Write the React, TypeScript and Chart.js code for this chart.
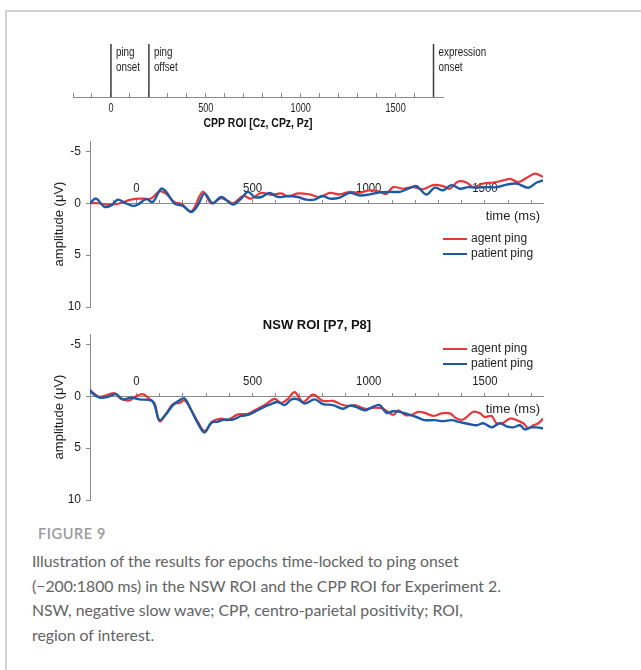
import React, { useEffect, useRef } from 'react';
import { Chart, registerables } from 'chart.js';

Chart.register(...registerables);

// ---------- data ----------
const X_MIN = -200;
const X_MAX = 1750;
const xTickValues = [-200, -100, 0, 100, 200, 300, 400, 500, 600, 700, 800, 900, 1000, 1100, 1200, 1300, 1400, 1500, 1600, 1700];
const xTickLabels = [0, 500, 1000, 1500];
const yTicks = [-5, 0, 5, 10];
const eventTimes = [0, 200, 1700];
const eventLabels = [['ping', 'onset'], ['ping', 'offset'], ['expression', 'onset']];
const seriesNames = ['agent ping', 'patient ping'];
const cppTitle = 'CPP ROI [Cz, CPz, Pz]';
const nswTitle = 'NSW ROI [P7, P8]';
const yTitle = 'amplitude (μV)';
const xTitle = 'time (ms)';

const cppAgentT = [-200, -166, -124, -80, -23, 27, 63, 99, 128, 164, 193, 236, 286, 322, 365, 415, 458, 494, 537, 580, 623, 652, 695, 746, 789, 832, 875, 918, 961, 1004, 1047, 1076, 1105, 1148, 1191, 1234, 1277, 1320, 1349, 1385, 1421, 1450, 1493, 1536, 1579, 1608, 1644, 1680, 1716, 1750];
const cppAgentV = [0, 0, 0.15, 0.05, -0.35, -0.45, -0.45, -1.15, -0.9, -0.1, 0.05, 0.8, -1.1, 0, -0.5, 0, -0.7, -0.45, -1.0, -0.8, -0.95, -0.65, -0.95, -0.85, -0.6, -1.0, -0.85, -1.1, -1.0, -1.25, -1.1, -0.9, -1.55, -1.4, -1.55, -1.35, -1.75, -1.65, -1.4, -2.1, -2.0, -1.55, -1.9, -2.0, -2.2, -2.35, -2.05, -2.45, -2.85, -2.55];

const cppPatientT = [-200, -174, -138, -109, -80, -52, -16, 6, 42, 70, 106, 128, 164, 200, 236, 264, 293, 329, 365, 415, 451, 480, 509, 537, 573, 609, 652, 695, 731, 767, 800, 832, 875, 918, 961, 1004, 1047, 1090, 1134, 1170, 1205, 1248, 1284, 1320, 1356, 1392, 1428, 1464, 1507, 1550, 1593, 1636, 1687, 1723, 1750];
const cppPatientV = [0, -0.45, 0.35, 0.2, -0.35, -0.07, 0.25, 0.12, -0.4, -0.12, -1.4, -1.1, 0.03, 0.25, 0.84, 0.2, -0.93, 0, -0.6, 0.12, -0.45, -1.1, -0.6, -0.6, -1.0, -0.6, -0.7, -0.6, -0.35, -0.35, -0.7, -0.45, -0.55, -1.0, -0.75, -0.85, -1.05, -1.1, -1.1, -1.4, -1.65, -0.85, -1.5, -1.25, -1.75, -1.4, -1.55, -1.5, -1.55, -1.55, -1.8, -1.9, -1.5, -2.0, -2.2];

const nswAgentT = [-200, -159, -95, -67, -30, -2, 27, 56, 78, 99, 128, 157, 185, 207, 236, 264, 293, 329, 365, 393, 437, 480, 509, 552, 595, 623, 652, 681, 717, 760, 803, 846, 889, 918, 940, 983, 1026, 1062, 1105, 1127, 1156, 1184, 1213, 1241, 1277, 1313, 1349, 1378, 1406, 1450, 1479, 1500, 1529, 1550, 1579, 1608, 1636, 1665, 1687, 1708, 1730, 1750];
const nswAgentV = [-0.6, 0.05, -0.3, 0.25, 0.4, 0.0, -0.2, 0.25, 0.7, 2.4, 1.7, 0.75, 0.65, 0.4, 1.35, 2.45, 3.35, 2.4, 2.15, 2.3, 1.75, 1.7, 1.35, 0.85, 0.25, 0.65, 0.25, -0.4, 0.55, -0.15, 0.45, 0.45, 0.85, 0.95, 0.85, 1.2, 1.1, 1.2, 1.8, 1.35, 1.8, 1.8, 1.5, 1.6, 1.9, 1.65, 1.65, 2.15, 2.25, 1.5, 1.65, 2.0, 1.9, 2.6, 2.55, 2.15, 2.3, 2.6, 3.1, 2.8, 2.6, 2.15];

const nswPatientT = [-200, -188, -159, -124, -88, -59, -23, 13, 63, 78, 99, 128, 157, 185, 207, 236, 264, 293, 322, 350, 379, 415, 451, 480, 509, 552, 580, 609, 638, 667, 695, 724, 767, 803, 846, 889, 918, 947, 983, 1011, 1047, 1076, 1105, 1134, 1170, 1205, 1241, 1284, 1320, 1356, 1392, 1435, 1464, 1493, 1529, 1565, 1593, 1622, 1651, 1672, 1694, 1723, 1750];
const nswPatientV = [-0.6, -0.25, 0.13, 0.07, -0.2, 0.3, 0.13, 0.3, 0.4, 0.85, 2.3, 1.7, 0.85, 0.4, 0.2, 1.35, 2.6, 3.5, 2.55, 2.45, 2.25, 2.25, 1.9, 1.8, 1.5, 1.0, 0.75, 0.55, 0.85, 0.3, 0.3, 0.7, 0.3, 0.75, 0.85, 1.2, 0.9, 1.05, 1.35, 1.1, 0.85, 1.6, 1.45, 1.5, 1.75, 2.0, 2.3, 2.3, 2.4, 2.3, 2.5, 2.7, 2.8, 2.6, 3.0, 2.6, 2.9, 3.0, 2.8, 3.2, 3.0, 3.0, 3.1];

// ---------- styles ----------
const FONT = '"Liberation Sans", Arial, Helvetica, sans-serif';
const RED = '#e6373b';
const BLUE = '#1d5aa3';
const AXIS = '#8a8a8a';
const TEXT = '#1e1e1e';

const pts = (t: number[], v: number[]) => t.map((x, i) => ({ x, y: v[i] }));

function drawText(ctx: CanvasRenderingContext2D, text: string, x: number, y: number, font: string, color: string, align: CanvasTextAlign, sx = 1, rot = 0) {
  ctx.save();
  ctx.font = font;
  ctx.fillStyle = color;
  ctx.textBaseline = 'middle';
  ctx.textAlign = align;
  ctx.translate(x, y);
  if (rot) ctx.rotate(rot);
  ctx.scale(sx, 1);
  ctx.fillText(text, 0, 0);
  ctx.restore();
}

const setXTicks = (s: any) => { s.ticks = xTickValues.map((v) => ({ value: v })); };

const timelinePlugin = {
  id: 'timelineText',
  afterDraw(chart: any) {
    const { ctx, chartArea, scales } = chart;
    const xs = scales.x;
    const y0 = scales.y.getPixelForValue(0);
    xTickLabels.forEach((v) => drawText(ctx, String(v), xs.getPixelForValue(v), y0 + 11.5, `13px ${FONT}`, TEXT, 'center', 0.7));
    eventTimes.forEach((t, i) => {
      const x = xs.getPixelForValue(t) + 5;
      eventLabels[i].forEach((s, j) => drawText(ctx, s, x, chartArea.top + 8.5 + j * 15.5, `12px ${FONT}`, TEXT, 'left', 0.82));
    });
    drawText(ctx, cppTitle, (chartArea.left + chartArea.right) / 2, y0 + 27, `bold 12px ${FONT}`, '#111', 'center', 0.87);
  },
};

function makePanelPlugin(legendTop: number, title: string | null) {
  return {
    id: 'panelText',
    beforeDatasetsDraw(chart: any) {
      const { ctx, chartArea, scales } = chart;
      const xs = scales.x;
      const ys = scales.y;
      const y0 = ys.getPixelForValue(0);
      xTickLabels.forEach((v) => drawText(ctx, String(v), xs.getPixelForValue(v), y0 - 15, `12px ${FONT}`, TEXT, 'center', 0.95));
      yTicks.forEach((v) => drawText(ctx, String(v), chartArea.left - 9, ys.getPixelForValue(v), `12px ${FONT}`, TEXT, 'right'));
      drawText(ctx, yTitle, chartArea.left - 31, (chartArea.top + chartArea.bottom) / 2, `13px ${FONT}`, TEXT, 'center', 1, -Math.PI / 2);
    },
    afterDraw(chart: any) {
      const { ctx, chartArea, scales } = chart;
      const y0 = scales.y.getPixelForValue(0);
      drawText(ctx, xTitle, chartArea.right - 3, y0 + 13, `13px ${FONT}`, TEXT, 'right');
      chart.data.datasets.forEach((ds: any, i: number) => {
        const y = chartArea.top + legendTop + i * 15;
        ctx.save();
        ctx.strokeStyle = ds.borderColor;
        ctx.lineWidth = 2;
        ctx.beginPath();
        ctx.moveTo(chartArea.right - 100, y);
        ctx.lineTo(chartArea.right - 76, y);
        ctx.stroke();
        ctx.restore();
        drawText(ctx, ds.label, chartArea.right - 72, y, `12px ${FONT}`, TEXT, 'left');
      });
      if (title) {
        drawText(ctx, title, 317, chartArea.top - 9, `bold 13px ${FONT}`, '#111', 'center');
      }
    },
  };
}

function timelineConfig(): any {
  return {
    type: 'line',
    data: {
      datasets: eventTimes.map((t) => ({
        data: [{ x: t, y: 0 }, { x: t, y: 1 }],
        borderColor: '#3a3a3a',
        borderWidth: 1.5,
        pointRadius: 0,
      })),
    },
    options: {
      responsive: false,
      animation: false,
      events: [],
      layout: { padding: { left: 73, right: 198, top: 44, bottom: 38 } },
      plugins: { legend: { display: false }, tooltip: { enabled: false }, title: { display: false } },
      scales: {
        x: {
          type: 'linear', min: X_MIN, max: X_MAX, position: { y: 0 },
          afterBuildTicks: setXTicks,
          grid: { display: true, drawOnChartArea: false, drawTicks: true, tickLength: -5, color: AXIS, lineWidth: 1 },
          border: { display: true, color: AXIS, width: 1 },
          ticks: { display: false },
        },
        y: { type: 'linear', min: 0, max: 1, display: false },
      },
    },
    plugins: [timelinePlugin],
  };
}

function panelConfig(agent: { x: number; y: number }[], patient: { x: number; y: number }[], legendTop: number, title: string | null): any {
  return {
    type: 'line',
    data: {
      datasets: [
        { label: seriesNames[0], data: agent, borderColor: RED, borderWidth: 2.2, pointRadius: 0, tension: 0.35, order: 1 },
        { label: seriesNames[1], data: patient, borderColor: BLUE, borderWidth: 2.4, pointRadius: 0, tension: 0.35, order: 0 },
      ],
    },
    options: {
      responsive: false,
      animation: false,
      events: [],
      layout: { padding: { left: 86, right: 98, top: 16, bottom: 15 } },
      plugins: { legend: { display: false }, tooltip: { enabled: false }, title: { display: false } },
      scales: {
        x: {
          type: 'linear', min: X_MIN, max: X_MAX, position: { y: 0 },
          afterBuildTicks: setXTicks,
          grid: { display: true, drawOnChartArea: false, drawTicks: true, tickLength: -4, color: AXIS, lineWidth: 1 },
          border: { display: true, color: AXIS, width: 1 },
          ticks: { display: false },
        },
        y: {
          type: 'linear', min: -6, max: 10, reverse: true, position: 'left',
          afterBuildTicks: (s: any) => { s.ticks = yTicks.map((v) => ({ value: v })); },
          grid: { display: true, drawOnChartArea: false, drawTicks: true, tickLength: 4, color: AXIS },
          border: { display: true, color: AXIS, width: 1 },
          ticks: { display: false },
          title: { display: false },
        },
      },
    },
    plugins: [makePanelPlugin(legendTop, title)],
  };
}

function ChartCanvas({ config, top, height }: { config: () => any; top: number; height: number }) {
  const ref = useRef<HTMLCanvasElement | null>(null);
  useEffect(() => {
    if (!ref.current) return;
    const chart = new Chart(ref.current, config());
    return () => chart.destroy();
  }, []);
  return (
    <canvas
      ref={ref}
      width={641}
      height={height}
      style={{ position: 'absolute', left: 0, top, width: 641, height }}
    />
  );
}

export default function App() {
  return (
    <div style={{ position: 'absolute', left: 0, top: 0, width: 641, height: 670, overflow: 'hidden', background: '#fff' }}>
      <div style={{ position: 'absolute', left: 5, top: 10, width: 700, height: 700, borderLeft: '2px solid #d2d2d2', borderTop: '2px solid #d2d2d2' }} />
      <ChartCanvas config={timelineConfig} top={0} height={135} />
      <ChartCanvas config={() => panelConfig(pts(cppAgentT, cppAgentV), pts(cppPatientT, cppPatientV), 98, null)} top={125} height={197} />
      <ChartCanvas config={() => panelConfig(pts(nswAgentT, nswAgentV), pts(nswPatientT, nswPatientV), 15, nswTitle)} top={318} height={197} />
      <div style={{ position: 'absolute', left: 38, top: 525, fontFamily: 'Lato, "Open Sans", sans-serif', fontSize: 14.5, letterSpacing: 0.6, color: '#9a9a9a', fontWeight: 600 }}>
        FIGURE 9
      </div>
      <div style={{ position: 'absolute', left: 32, top: 549, fontFamily: 'Lato, "Open Sans", sans-serif', fontSize: 15.8, lineHeight: '24.6px', color: '#636363', whiteSpace: 'nowrap' }}>
        Illustration of the results for epochs time-locked to ping onset<br />
        (−200:1800 ms) in the NSW ROI and the CPP ROI for Experiment 2.<br />
        NSW, negative slow wave; CPP, centro-parietal positivity; ROI,<br />
        region of interest.
      </div>
    </div>
  );
}
